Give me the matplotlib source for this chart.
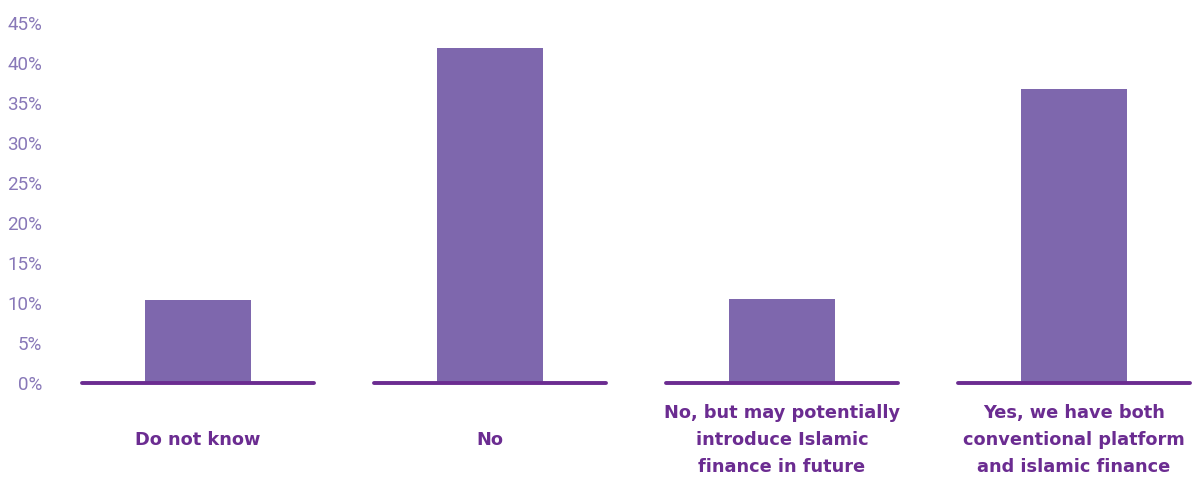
import matplotlib
matplotlib.use("Agg")
import matplotlib.pyplot as plt

categories = [
    "Do not know",
    "No",
    "No, but may potentially\nintroduce Islamic\nfinance in future",
    "Yes, we have both\nconventional platform\nand islamic finance",
]
values = [10.3, 41.9, 10.45, 36.7]
yticks = [0, 5, 10, 15, 20, 25, 30, 35, 40, 45]
ytick_labels = [f"{t}%" for t in yticks]

BAR_COLOR = "#7E67AD"
BASE_COLOR = "#6B2C91"
TICK_COLOR = "#8878B8"
LABEL_COLOR = "#6B2C91"

W, H = 1192, 479
fig = plt.figure(figsize=(W / 100, H / 100), dpi=100)
left_px, right_px = 52, 1192
bottom_px, top_px = 382.5, 23
ax = fig.add_axes([left_px / W, (H - bottom_px) / H,
                   (right_px - left_px) / W, (bottom_px - top_px) / H])

x = list(range(len(categories)))
ax.bar(x, values, width=0.363, color=BAR_COLOR, zorder=2)

# per-category baseline segments
for i in x:
    ax.plot([i - 0.396, i + 0.396], [0, 0], color=BASE_COLOR, lw=2.8,
            solid_capstyle="round", clip_on=False, zorder=3)

ax.set_xlim(-0.5, 3.404)
ax.set_ylim(0, 45)
ax.set_yticks(yticks)
ax.set_yticklabels(ytick_labels, fontfamily="Roboto", fontsize=13.5,
                   color=TICK_COLOR)
ax.tick_params(axis="y", length=0, pad=7)
ax.set_xticks([])
for s in ax.spines.values():
    s.set_visible(False)

for i, lab in zip(x, categories):
    ax.annotate(lab, xy=(i, 0), xycoords="data",
                xytext=(0, -(440 - bottom_px) * 0.72), textcoords="offset points",
                ha="center", va="center", fontsize=12.8, fontweight="bold",
                color=LABEL_COLOR, linespacing=1.65, fontfamily="DejaVu Sans")

fig.savefig("out.png", dpi=100)
